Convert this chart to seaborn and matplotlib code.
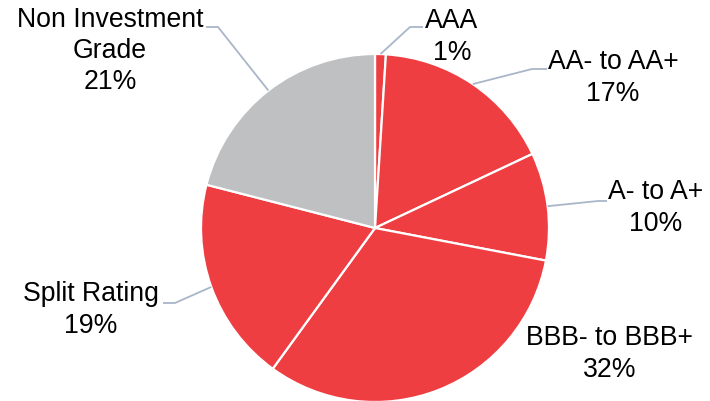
import matplotlib
matplotlib.use("Agg")
import matplotlib.pyplot as plt
import numpy as np
import seaborn as sns

# Rating distribution
categories = ["AAA", "AA- to AA+", "A- to A+", "BBB- to BBB+", "Split Rating", "Non Investment\nGrade"]
shares = [1, 17, 10, 32, 19, 21]

RED = "#EF3E42"
GREY = "#BFC0C2"
LEADER = "#A9B6C8"
slice_colors = [RED, RED, RED, RED, RED, GREY]

sns.set_theme(style="white")
plt.rcParams["font.family"] = ["Liberation Sans", "DejaVu Sans"]

W, H = 710, 402
fig = plt.figure(figsize=(W / 100, H / 100), dpi=100)
ax = fig.add_axes([0, 0, 1, 1])

cx, cy, r = 375, H - 229, 174
wedges, _ = ax.pie(shares, colors=slice_colors, startangle=90, counterclock=False,
                   center=(cx, cy), radius=r, frame=True,
                   wedgeprops=dict(edgecolor="white", linewidth=1.6))
ax.set_xlim(0, W)
ax.set_ylim(0, H)
ax.set_aspect("equal")
ax.axis("off")

# label layout (pixel space from top-left): text centre, leader elbow, leader end
layout = [
    ((452, 37), (410, 28), (423, 28)),
    ((613, 78), (532, 70), (547, 70)),
    ((656, 208), (598, 202), (607, 202)),
    ((610, 354), None, None),
    ((91, 310), (175, 304), (163, 304)),
    ((110, 51), (218, 28), (206, 28)),
]

for w, cat, v, (tpos, elbow, end) in zip(wedges, categories, shares, layout):
    mid = np.deg2rad((w.theta1 + w.theta2) / 2)
    ex, ey = cx + r * np.cos(mid), cy + r * np.sin(mid)
    if elbow is not None:
        ax.plot([ex, elbow[0], end[0]], [ey, H - elbow[1], H - end[1]],
                color=LEADER, lw=1.3, solid_capstyle="butt", zorder=1)
    ax.text(tpos[0], H - tpos[1], f"{cat}\n{v}%", ha="center", va="center",
            fontsize=19.2, color="black", linespacing=1.27)

fig.savefig("out.png", dpi=100)
